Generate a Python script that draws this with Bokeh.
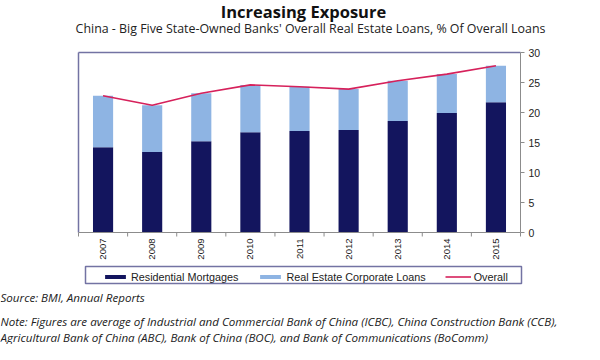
from bokeh.plotting import figure
from bokeh.models import Range1d, Legend, LegendItem, ColumnDataSource
from bokeh.core.properties import value
from bokeh.embed import file_html
from bokeh.resources import INLINE
import math

# ---------------- data ----------------
years = ["2007", "2008", "2009", "2010", "2011", "2012", "2013", "2014", "2015"]
residential = [14.2, 13.4, 15.2, 16.7, 16.9, 17.1, 18.6, 19.9, 21.7]
corporate = [8.6, 7.8, 8.0, 7.9, 7.4, 6.8, 6.7, 6.5, 6.1]
overall = [22.8, 21.2, 23.2, 24.6, 24.3, 23.9, 25.3, 26.4, 27.8]
y_ticks = [0, 5, 10, 15, 20, 25, 30]
series_names = ["Residential Mortgages", "Real Estate Corporate Loans", "Overall"]

title = "Increasing Exposure"
subtitle = "China - Big Five State-Owned Banks' Overall Real Estate Loans, % Of Overall Loans"
source_txt = "Source: BMI, Annual Reports"
note1 = ("Note: Figures are average of Industrial and Commercial Bank of China (ICBC), "
         "China Construction Bank (CCB),")
note2 = ("Agricultural Bank of China (ABC), Bank of China (BOC), and Bank of "
         "Communications (BoComm)")

# ---------------- styles / layout ----------------
NAVY = "#13155e"
LIGHT = "#8eb4e3"
RED = "#d6215b"
FRAME = "#7373a3"
AXIS = "#8c8c8c"
W, H = 584, 344
PL, PR, PT, PB = 78, 520, 52, 232      # plot-area edges in canvas pixels
n = len(years)
ymax = y_ticks[-1]
xs = n / (PR - PL)                      # category units per pixel
ys = ymax / (PB - PT)                   # value units per pixel

p = figure(width=W, height=H, output_backend="svg", toolbar_location=None,
           x_range=Range1d(0, W), y_range=Range1d(H, 0), min_border=0)
p.xaxis.visible = False
p.yaxis.visible = False
p.grid.visible = False
p.outline_line_color = None
p.extra_x_ranges = {"cat": Range1d(-PL * xs, n + (W - PR) * xs)}
p.extra_y_ranges = {"val": Range1d(-(H - PB) * ys, ymax + PT * ys)}
XR = dict(x_range_name="cat", y_range_name="val")

# ---------------- bars + line ----------------
xc = [i + 0.5 for i in range(n)]
tops = [r + c for r, c in zip(residential, corporate)]
src = ColumnDataSource(dict(x=xc, res=residential, top=tops, overall=overall,
                            year=years))

r1 = p.vbar(x="x", top="res", bottom=0, width=0.41, source=src,
            fill_color=NAVY, line_color=None, **XR)
r2 = p.vbar(x="x", top="top", bottom="res", width=0.41, source=src,
            fill_color=LIGHT, line_color=None, **XR)
r3 = p.line(x="x", y="overall", source=src, line_color=RED, line_width=1.6, **XR)

# ---------------- frame and axes ----------------
p.segment(x0=[0, 0], y0=[0, ymax], x1=[0, n], y1=[ymax, ymax],
          line_color=FRAME, line_width=1.5, **XR)
p.segment(x0=[0, n], y0=[0, 0], x1=[n, n], y1=[0, ymax],
          line_color=AXIS, line_width=1, **XR)
bounds = list(range(n + 1))
p.segment(x0=bounds, y0=[0] * len(bounds), x1=bounds,
          y1=[-4 * ys] * len(bounds), line_color=AXIS, line_width=1, **XR)
p.segment(x0=[n] * len(y_ticks), y0=y_ticks, x1=[n + 4 * xs] * len(y_ticks),
          y1=y_ticks, line_color=AXIS, line_width=1, **XR)
p.text(x=[n] * len(y_ticks), y=y_ticks, text=[str(t) for t in y_ticks],
       x_offset=8, text_align="left", text_baseline="middle",
       text_font=value("Liberation Sans"), text_font_size="10.5px",
       text_color="#222222", **XR)
p.text(x="x", y=0, text="year", source=src, angle=math.pi / 2, y_offset=6,
       text_align="right", text_baseline="middle",
       text_font=value("Liberation Sans"), text_font_size="9.5px",
       text_color="#222222", **XR)

# ---------------- legend ----------------
p.quad(left=[85], right=[521], top=[266], bottom=[283], fill_color=None,
       line_color=FRAME, line_width=1.5)
legend = Legend(items=[LegendItem(label=nm, renderers=[r])
                       for nm, r in zip(series_names, [r1, r2, r3])],
                orientation="horizontal", location=(102, 61), padding=2,
                spacing=19, glyph_width=26, glyph_height=5, label_height=13,
                label_standoff=3, label_text_font="Liberation Sans",
                label_text_font_size="10.8px", label_text_color="#222222",
                border_line_color=None, background_fill_alpha=0, margin=0)
p.add_layout(legend, "center")

# ---------------- texts ----------------
p.text(x=[303], y=[11], text=[title], text_font=value("Open Sans"),
       text_font_size="16.5px", text_font_style="bold", text_align="center",
       text_baseline="middle", text_color="#111111")
p.text(x=[310], y=[28], text=[subtitle], text_font=value("Open Sans"),
       text_font_size="12.4px", text_align="center", text_baseline="middle",
       text_color="#222222")
p.text(x=[0, 0, 0], y=[297, 321, 337], text=[source_txt, note1, note2],
       text_font=value("Open Sans"), text_font_size="11.6px",
       text_font_style="italic", text_baseline="middle", text_color="#222222")

open("out.html", "w").write(file_html(p, INLINE))
